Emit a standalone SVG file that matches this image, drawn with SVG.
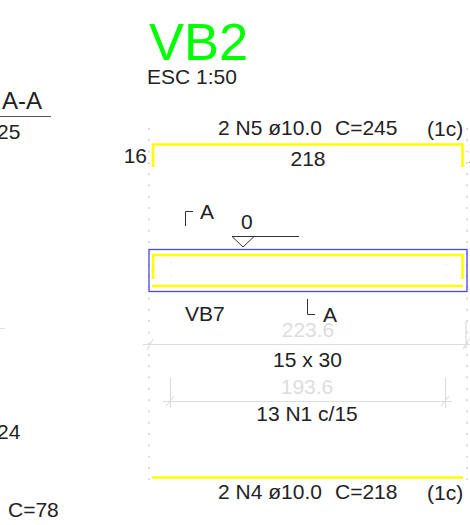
<svg xmlns="http://www.w3.org/2000/svg" width="470" height="525" viewBox="0 0 470 525">
<style>
text{font-family:"Liberation Sans",Arial,sans-serif;font-size:21px;fill:#222}
.m{text-anchor:middle}
.y{fill:none;stroke:#ffff00;stroke-width:2.600}
.g{fill:none;stroke:#ddd;stroke-width:1.200}
.d{fill:none;stroke:#dcdcdc;stroke-width:2;stroke-dasharray:2 9.3}
.k{fill:none;stroke:#333;stroke-width:1}
</style>
<rect width="470" height="525" fill="#fff"/>
<g id="title">
<text x="149" y="60" style="font-size:52.500px;fill:#00ff00">VB2</text>
<text x="147" y="84">ESC 1:50</text>
</g>
<g id="section-left">
<text x="2" y="109" style="font-size:24px">A-A</text>
<line x1="0" y1="116.500" x2="51" y2="116.500" stroke="#555" stroke-width="1.200"/>
<text x="-3" y="139">25</text>
<text x="-3" y="439">24</text>
<text x="8" y="517">C=78</text>
<line x1="0" y1="328.500" x2="5" y2="328.500" stroke="#ddd"/>
</g>
<g id="guides">
<line class="d" x1="149" y1="128" x2="149" y2="488"/>
<line class="d" x1="467" y1="128" x2="467" y2="488"/>
<line x1="171" y1="262" x2="171" y2="263" stroke="#ddd"/>
<line x1="171" y1="275" x2="171" y2="276" stroke="#ddd"/>
<line x1="446" y1="264" x2="446" y2="265" stroke="#ddd"/>
<line x1="446" y1="276" x2="446" y2="277" stroke="#ddd"/>
</g>
<g id="bar-N5">
<text x="218" y="135">2 N5 ø10.0</text>
<text x="335" y="135">C=245</text>
<text x="427" y="136">(1c)</text>
<path class="y" d="M153 167V144.500H462.500V167"/>
<text x="147" y="163" text-anchor="end">16</text>
<text x="308" y="166" class="m">218</text>
<text x="468" y="163">16</text>
</g>
<g id="beam-VB2">
<rect x="149" y="249.500" width="318" height="42" fill="none" stroke="#4848ee" stroke-width="1.300"/>
<path class="y" d="M153 279V255H462.500V279"/>
<line class="y" x1="152" y1="286" x2="463" y2="286"/>
</g>
<g id="level">
<text x="241" y="229">0</text>
<path class="k" d="M232 236.500H299M232 236.500L243 247L254 236.500"/>
</g>
<g id="section-marks">
<path class="k" d="M185.500 226V211.500H193"/>
<text x="200" y="219">A</text>
<path class="k" d="M307.500 299V314.500H315"/>
<text x="323" y="322">A</text>
</g>
<g id="label-VB7"><text x="185" y="321">VB7</text></g>
<g id="dim-223">
<text x="308" y="337" class="m" style="fill:#ddd">223.6</text>
<path class="g" d="M143 344.500H470M147 350L153 339M466 321V349M463 349L469 339"/>
<text x="307.500" y="367" class="m">15 x 30</text>
</g>
<g id="dim-193">
<text x="307" y="394" class="m" style="fill:#ddd">193.6</text>
<path class="g" d="M163 401.500H452M170.500 378V408M166 406L174 396M445.500 378V408M441 406L449 396"/>
<text x="307" y="421" class="m">13 N1 c/15</text>
</g>
<g id="bar-N4">
<line class="y" x1="152" y1="477.500" x2="463" y2="477.500"/>
<text x="218" y="499">2 N4 ø10.0</text>
<text x="335" y="499">C=218</text>
<text x="427" y="500">(1c)</text>
</g>
</svg>
